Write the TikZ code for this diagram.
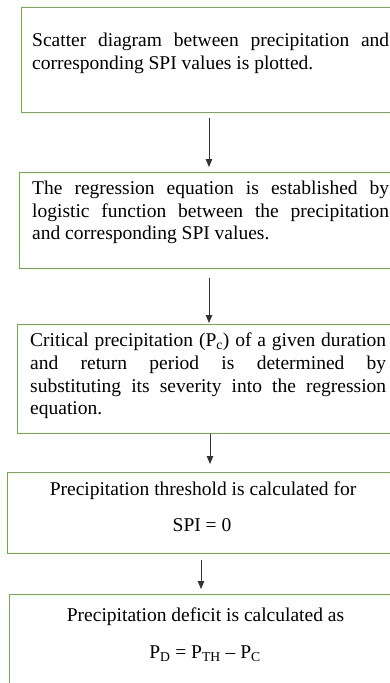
\documentclass[tikz,border=0pt]{standalone}
\usepackage{fontspec}
\setmainfont{Liberation Serif}
\usetikzlibrary{arrows.meta}
\definecolor{boxgreen}{HTML}{70AD47}
\begin{document}
\begin{tikzpicture}[x=1pt,y=-1pt,
  stepbox/.style={draw=boxgreen, line width=1.3pt, fill=white, inner sep=0pt, anchor=north west, minimum width=399pt},
  para/.style={inner sep=0pt, anchor=base west, text width=357pt, align=justify, font=\fontsize{19.5}{22.7}\selectfont},
  oneline/.style={inner sep=0pt, anchor=base, font=\fontsize{19.5}{22.7}\selectfont},
  arr/.style={draw=black!80, line width=0.8pt, -{Triangle[width=6.5pt,length=8pt]}}]
\clip (0,0) rectangle (390,683);
\fill[white] (0,0) rectangle (390,683);
% boxes
\node[stepbox, minimum height=105pt] (b1) at (21,7) {};
\node[stepbox, minimum height=96pt] (b2) at (19,172) {};
\node[stepbox, minimum height=109pt] (b3) at (17,324) {};
\node[stepbox, minimum height=81pt] (b4) at (7,472) {};
\node[stepbox, minimum height=120pt] (b5) at (9,594) {};
% texts
\node[para] (t1) at (32,46.5) {Scatter diagram between precipitation and\linebreak corresponding SPI values is plotted.};
\node[para] (t2) at (32,194.5) {The regression equation is established by\linebreak logistic function between the precipitation\linebreak and corresponding SPI values.};
\node[para, text width=356pt] (t3) at (30,346.7) {Critical precipitation (P\textsubscript{c}) of a given duration\linebreak and return period is determined by\linebreak substituting its severity into the regression\linebreak equation.};
\node[oneline] (t4a) at (203,495) {Precipitation threshold is calculated for};
\node[oneline] (t4b) at (202,531.7) {SPI = 0};
\node[oneline] (t5a) at (205.5,621.7) {Precipitation deficit is calculated as};
\node[oneline] (t5b) at (205,658.3) {P\textsubscript{D} = P\textsubscript{TH} – P\textsubscript{C}};
% arrow columns
\coordinate (ax1) at (209,0);
\coordinate (ax2) at (209,0);
\coordinate (ax3) at (210,0);
\coordinate (ax4) at (201,0);
\draw[arr, shorten <=5pt, shorten >=5pt] (b1.south -| ax1) -- (b2.north -| ax1);
\draw[arr, shorten <=9pt, shorten >=1pt] (b2.south -| ax2) -- (b3.north -| ax2);
\draw[arr, shorten <=0pt, shorten >=8pt] (b3.south -| ax3) -- (b4.north -| ax3);
\draw[arr, shorten <=6pt, shorten >=5pt] (b4.south -| ax4) -- (b5.north -| ax4);
\end{tikzpicture}
\end{document}
